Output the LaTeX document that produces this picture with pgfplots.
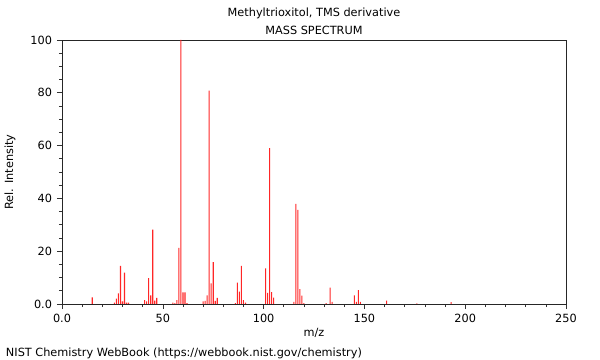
\documentclass[border=0pt]{standalone}
\usepackage{pgfplots}
\pgfplotsset{compat=1.18}
\usepackage{fontspec}
\setmainfont{DejaVu Sans}
\begin{document}
\fontsize{11.3bp}{13bp}\selectfont
\begin{tikzpicture}
\path[use as bounding box] (-62bp,-56bp) rectangle (538bp,304bp);
\begin{axis}[
  at={(0,0)}, anchor=south west,
  scale only axis, width=504bp, height=264bp,
  xmin=0, xmax=250, ymin=0, ymax=100,
  xtick={0,50,100,150,200,250},
  xticklabels={0.0,50,100,150,200,250},
  ytick={0,20,40,60,80,100},
  yticklabels={0.0,20,40,60,80,100},
  minor x tick num=4, minor y tick num=3,
  xtick pos=left, ytick pos=left,
  tick align=outside,
  major tick length=5bp, minor tick length=3bp,
  axis line style={black!85, line width=0.8bp},
  tick style={black!80, line width=0.6bp},
  /pgf/number format/assume math mode=true,
  tick label style={font=\fontsize{11.3bp}{13bp}\selectfont},
  xticklabel style={yshift=-1bp},
  yticklabel style={xshift=-1bp},
  clip=true,
]
\addplot[ybar, bar width=1.1bp, fill=red!85, draw=none, bar shift=0pt] coordinates {
(15,2.5) (26,0.5) (27,2.0) (28,4.0) (29,14.4) (30,1.0) (31,11.9) (32,0.5) (33,0.5)
(41,1.5) (42,1.0) (43,9.8) (44,3.3) (45,28.2) (46,1.3) (47,2.3)
(55,0.5) (56,0.3) (57,1.5) (58,21.3) (59,100) (60,4.4) (61,4.4) (62,0.3)
(70,1.0) (71,1.2) (72,3.3) (73,80.8) (74,7.8) (75,15.9) (76,1.2) (77,2.3)
(86,0.3) (87,8.1) (88,4.7) (89,14.4) (90,1.5) (91,0.5)
(101,13.5) (102,4.2) (103,59.0) (104,4.5) (105,2.4)
(115,0.8) (116,37.9) (117,35.7) (118,5.6) (119,3.2) (120,0.3)
(131,0.3) (133,6.2) (134,0.8) (145,3.3) (146,0.8) (147,5.3) (148,0.8)
(161,1.3) (176,0.2) (193,0.7)
};
\end{axis}
\node at (252bp,291bp) {Methyltrioxitol, TMS derivative};
\node at (252bp,274bp) {MASS SPECTRUM};
\node at (252bp,-29bp) {m/z};
\node[rotate=90] at (-52bp,132bp) {Rel. Intensity};
\node[anchor=west] at (-60bp,-49bp) {NIST Chemistry WebBook (https://webbook.nist.gov/chemistry)};
\end{tikzpicture}
\end{document}
